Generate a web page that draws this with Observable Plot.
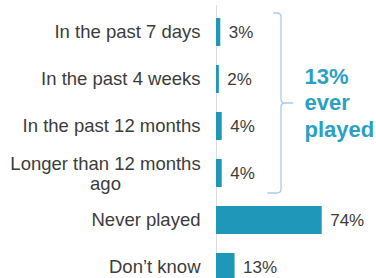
<!DOCTYPE html>
<html>
<head>
<meta charset="utf-8">
<script src="https://cdn.jsdelivr.net/npm/d3@7"></script>
<script src="https://cdn.jsdelivr.net/npm/@observablehq/plot@0.6"></script>
<style>
  html, body { margin: 0; padding: 0; background: #fff; overflow: hidden; }
  #chart svg { display: block; }
</style>
</head>
<body>
<div id="chart"></div>
<script>
const categories = [
  "In the past 7 days",
  "In the past 4 weeks",
  "In the past 12 months",
  "Longer than 12 months\nago",
  "Never played",
  "Don\u2019t know"
];
const values = [3, 2, 4, 4, 74, 13];
const valueLabels = ["3%", "2%", "4%", "4%", "74%", "13%"];
const bracketCategories = categories.slice(0, 4);
const summaryLabel = "13%\never\nplayed";

const data = categories.map((c, i) => ({category: c, value: values[i], label: valueLabels[i], multi: c.includes("\n")}));

const barColor = "#1f97b8";
const accent = "#2ba0c5";
const textColor = "#3c3c3c";
const font = "Liberation Sans, Arial, sans-serif";

const braceMark = (index, scales, values, dims, context) => {
  const y = scales.y, x = scales.x, bw = y.bandwidth();
  const top = y(bracketCategories[0]) - 5;
  const bot = y(bracketCategories[bracketCategories.length - 1]) + bw + 6;
  const mid = (top + bot) / 2;
  const xL = x(40), xV = x(45.5), xT = x(54), r = 4;
  const path = `M${xL},${top} L${xV - r},${top} Q${xV},${top} ${xV},${top + r}` +
    ` L${xV},${mid - r} Q${xV},${mid} ${xV + r},${mid} L${xT},${mid}` +
    ` M${xV + r},${mid} Q${xV},${mid} ${xV},${mid + r}` +
    ` L${xV},${bot - r} Q${xV},${bot} ${xV - r},${bot} L${x(36)},${bot}`;
  const g = d3.create("svg:g");
  g.append("path").attr("d", path).attr("fill", "none").attr("stroke", "#a9cbe9").attr("stroke-width", 1.3);
  return g.node();
};

const summaryMark = (index, scales, values, dims, context) => {
  const y = scales.y, x = scales.x, bw = y.bandwidth();
  const mid = (y(bracketCategories[0]) + y(bracketCategories[bracketCategories.length - 1]) + bw) / 2;
  const g = d3.create("svg:g").attr("text-anchor", "start");
  const t = g.append("text").attr("x", x(62)).attr("y", mid)
    .attr("text-anchor", "start")
    .attr("font-size", 22).attr("font-weight", "bold").attr("fill", accent)
    .attr("font-family", font);
  const lines = summaryLabel.split("\n");
  lines.forEach((l, i) => {
    t.append("tspan").attr("x", x(62))
      .attr("dy", i === 0 ? `${-(lines.length - 1) / 2 * 1.2 + 0.35}em` : "1.2em").text(l);
  });
  return g.node();
};

const chart = Plot.plot({
  width: 376,
  height: 287,
  marginLeft: 216,
  marginRight: 0,
  marginTop: 11,
  marginBottom: 0,
  style: {fontFamily: font, background: "#fff"},
  x: {domain: [0, 112], axis: null},
  y: {domain: categories, axis: null, paddingInner: 0.41, paddingOuter: 0.1, align: 0.5},
  marks: [
    Plot.ruleX([0], {stroke: "#dcdcdc", strokeWidth: 1, insetTop: -6}),
    Plot.barX(data, {x: "value", y: "category", fill: barColor}),
    Plot.text(data, {x: "value", y: "category", text: "label", textAnchor: "start", dx: 8, fontSize: 17, fill: textColor}),
    Plot.text(data.filter(d => !d.multi), {x: 0, y: "category", text: "category", textAnchor: "end", dx: -16, fontSize: 18.5, fill: textColor}),
    Plot.text(data.filter(d => d.multi), {x: 0, y: "category", text: "category", textAnchor: "middle", dx: -111, fontSize: 18.5, lineHeight: 1.08, fill: textColor}),
    Plot.frame({stroke: "none", render: summaryMark}),
    Plot.frame({stroke: "none", render: braceMark})
  ]
});
document.getElementById("chart").appendChild(chart);
</script>
</body>
</html>
